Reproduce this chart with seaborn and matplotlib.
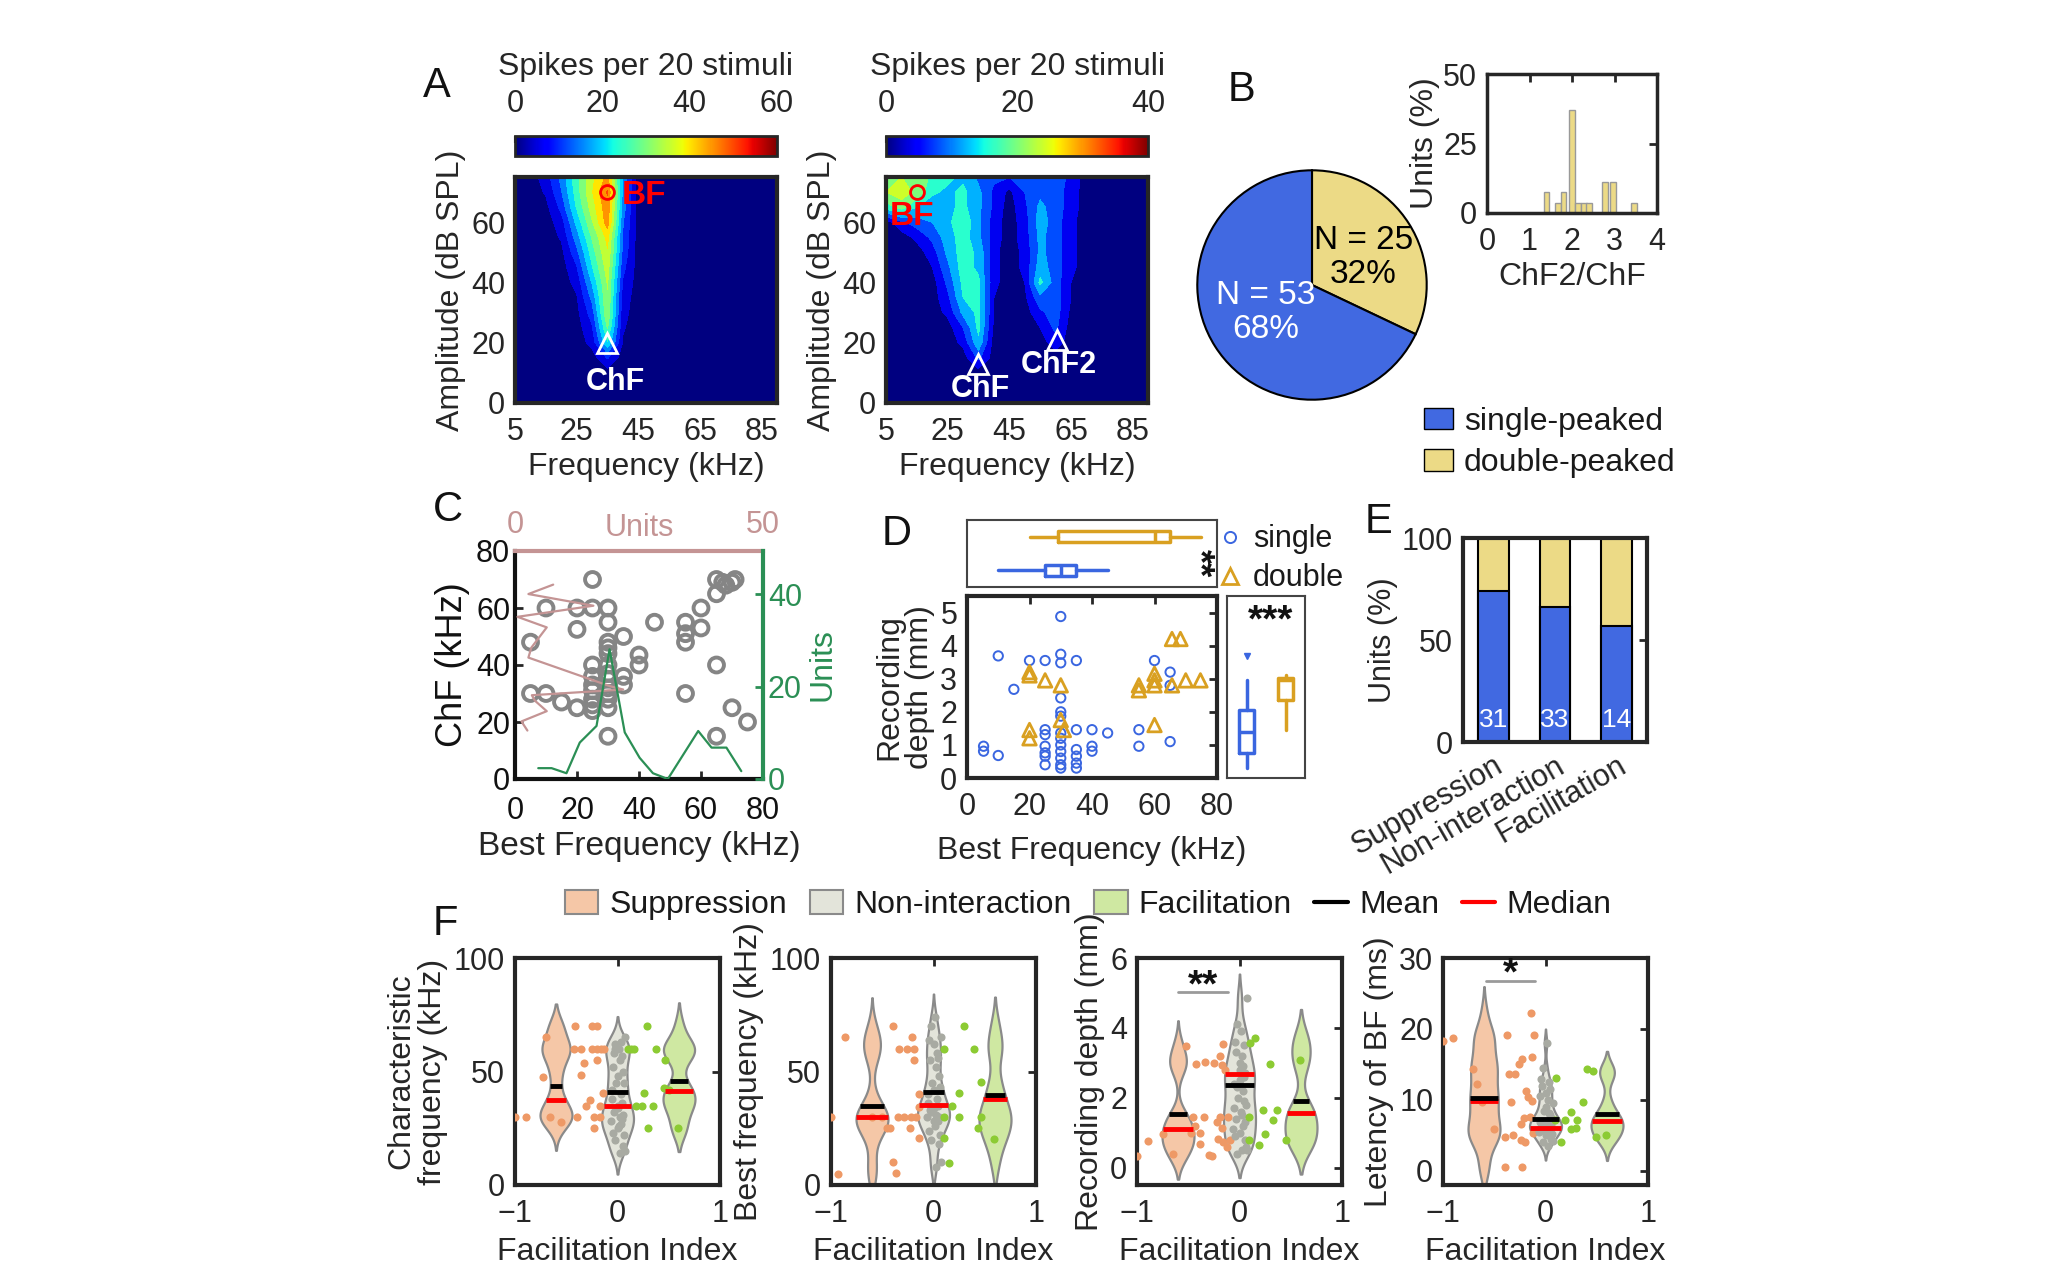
import numpy as np
import pandas as pd
import matplotlib
matplotlib.use("Agg")
import matplotlib.pyplot as plt
import seaborn as sns
from matplotlib.patches import Patch
from matplotlib.lines import Line2D
from matplotlib.colors import Normalize
from matplotlib.cm import ScalarMappable
from matplotlib.collections import PolyCollection

#################################################################
# A: tuning maps (spikes per 20 stimuli); rows = amplitude, cols = frequency
freq_khz = [5, 10, 15, 20, 25, 30, 35, 40, 45, 50, 55, 60, 65, 70, 75, 80, 85, 90]
amp_db = [0, 5, 10, 15, 20, 25, 30, 35, 40, 45, 50, 55, 60, 65, 70, 75]
spikes_single = [
    [0, 0, 0, 0, 0, 0, 0, 0, 0, 0, 0, 0, 0, 0, 0, 0, 0, 0],
    [0, 0, 0, 0, 0, 0, 0, 0, 0, 0, 0, 0, 0, 0, 0, 0, 0, 0],
    [0, 0, 0, 0, 0, 0, 0, 0, 0, 0, 0, 0, 0, 0, 0, 0, 0, 0],
    [0, 0, 0, 0, 0, 0, 8, 0, 0, 0, 0, 0, 0, 0, 0, 0, 0, 0],
    [0, 0, 0, 0, 0, 4, 22, 2, 0, 0, 0, 0, 0, 0, 0, 0, 0, 0],
    [0, 0, 0, 0, 0, 7, 28, 3, 0, 0, 0, 0, 0, 0, 0, 0, 0, 0],
    [0, 0, 0, 0, 1, 10, 32, 4, 0, 0, 0, 0, 0, 0, 0, 0, 0, 0],
    [0, 0, 0, 0, 2, 14, 32, 5, 0, 0, 0, 0, 0, 0, 0, 0, 0, 0],
    [0, 0, 0, 0, 4, 18, 33, 7, 0, 0, 0, 0, 0, 0, 0, 0, 0, 0],
    [0, 0, 0, 0, 7, 22, 35, 9, 0, 0, 0, 0, 0, 0, 0, 0, 0, 0],
    [0, 0, 0, 1, 11, 25, 37, 11, 0, 0, 0, 0, 0, 0, 0, 0, 0, 0],
    [0, 0, 0, 3, 15, 28, 39, 12, 0, 0, 0, 0, 0, 0, 0, 0, 0, 0],
    [0, 0, 0, 5, 19, 32, 45, 13, 0, 0, 0, 0, 0, 0, 0, 0, 0, 0],
    [0, 0, 1, 9, 23, 35, 46, 15, 0, 0, 0, 0, 0, 0, 0, 0, 0, 0],
    [0, 0, 3, 12, 25, 37, 48, 16, 0, 0, 0, 0, 0, 0, 0, 0, 0, 0],
    [0, 0, 5, 14, 26, 36, 44, 16, 0, 0, 0, 0, 0, 0, 0, 0, 0, 0],
]
spikes_double = [
    [0, 0, 0, 0, 0, 0, 0, 0, 0, 0, 0, 0, 0, 0, 0, 0, 0, 0],
    [0, 0, 0, 0, 0, 0, 0, 0, 0, 0, 0, 0, 0, 0, 0, 0, 0, 0],
    [0, 0, 0, 0, 0, 0, 0, 0, 0, 0, 0, 0, 0, 0, 0, 0, 0, 0],
    [0, 0, 0, 0, 0, 0, 7, 0, 0, 0, 0, 0, 0, 0, 0, 0, 0, 0],
    [0, 0, 0, 0, 0, 3, 13, 0, 0, 0, 0, 4, 0, 0, 0, 0, 0, 0],
    [0, 0, 0, 0, 0, 6, 15, 1, 0, 0, 2, 7, 0, 0, 0, 0, 0, 0],
    [0, 0, 0, 0, 3, 11, 15, 2, 0, 0, 5, 8, 1, 0, 0, 0, 0, 0],
    [0, 0, 0, 0, 5, 14, 15, 2, 0, 1, 9, 8, 2, 0, 0, 0, 0, 0],
    [0, 0, 0, 0, 7, 15, 15, 3, 0, 2, 15, 8, 2, 0, 0, 0, 0, 0],
    [0, 0, 0, 2, 9, 16, 13, 3, 0, 3, 12, 8, 3, 0, 0, 0, 0, 0],
    [0, 0, 0, 4, 11, 16, 13, 3, 0, 3, 11, 8, 3, 0, 0, 0, 0, 0],
    [0, 0, 3, 7, 12, 16, 11, 4, 0, 4, 11, 8, 3, 0, 0, 0, 0, 0],
    [0, 5, 8, 10, 13, 17, 11, 4, 0, 4, 12, 8, 3, 0, 0, 0, 0, 0],
    [16, 20, 14, 11, 13, 15, 11, 5, 0, 5, 11, 8, 4, 0, 0, 0, 0, 0],
    [22, 24, 21, 15, 13, 15, 11, 5, 1, 6, 9, 8, 4, 0, 0, 0, 0, 0],
    [19, 22, 21, 17, 15, 13, 9, 7, 6, 7, 7, 8, 5, 0, 0, 0, 0, 0],
]

# B: pie + ChF2/ChF histogram
peak_counts = [25, 53]          # double-peaked, single-peaked
ratio_bins = [1.4, 1.66, 1.8, 2.0, 2.15, 2.28, 2.41, 2.78, 2.97, 3.45]
ratio_pct = [7.4, 3.7, 7.4, 37.0, 3.7, 3.7, 3.7, 11.1, 11.1, 3.7]

# C: ChF vs BF with marginal unit counts
bf_c = [5, 5, 10, 10, 15, 20, 20, 20, 25, 25, 25, 25, 25, 25, 25, 25, 25,
        30, 30, 30, 30, 30, 30, 30, 30, 30, 30, 30, 30, 30, 35, 35, 35, 40, 40, 45,
        55, 55, 55, 55, 60, 60, 65, 65, 65, 65, 67, 68, 70, 71, 70, 75]
chf_c = [48, 30, 60, 30, 27, 60, 52.5, 25, 70, 60, 40, 36, 33, 31, 28, 26, 24,
         60, 55, 48, 46, 44, 40, 37, 35, 32, 30, 28, 25, 15, 50, 36, 33, 43.5, 40, 55,
         55, 51, 48, 30, 60, 53, 65, 70, 40, 15, 69, 68, 69, 70, 25, 20]
chf_hist_khz = [17, 20.2, 23.8, 27.5, 29.4, 31.4, 32.6, 42.6, 46.1, 53.2, 56.9, 60.8, 64.9, 68.2]
chf_hist_units = [2.5, 1.3, 6.4, 4.0, 3.4, 21.8, 19.1, 2.7, 3.3, 6.4, 0.5, 15.8, 2.7, 7.7]
bf_hist_khz = [7.5, 11.8, 16.6, 20.9, 26.3, 30.5, 35.4, 40.2, 44.5, 49.3, 59.1, 63.4, 68.2, 73.0]
bf_hist_units = [2.35, 2.35, 1.25, 7.9, 11.5, 28.1, 10.1, 4.6, 1.25, 0, 10.4, 6.8, 6.8, 1.7]

# D: recording depth vs BF
single_bf = [5.3, 5.3, 10, 10, 15, 20, 25, 25, 25, 25, 25, 25, 25, 30, 30, 30, 30, 30, 30,
             30, 30, 30, 30, 30, 30, 30, 35, 35, 35, 35, 35, 35, 40, 40, 40, 45, 55, 55,
             60, 65, 65, 65]
single_depth = [0.96, 0.81, 3.69, 0.68, 2.68, 3.55, 3.55, 1.46, 1.31, 0.96, 0.76, 0.66, 0.4,
                4.88, 3.74, 3.48, 2.42, 2.0, 1.87, 1.36, 1.2, 1.0, 0.8, 0.6, 0.4, 0.3, 3.55,
                1.46, 0.86, 0.66, 0.45, 0.3, 1.46, 0.96, 0.81, 1.36, 1.46, 0.96, 3.55, 3.2,
                2.8, 1.1]
double_bf = [20, 20, 20, 20, 25, 30, 30, 31, 55, 55, 60, 60, 60, 60, 65.6, 68.3, 65.6, 70, 74.7]
double_depth = [3.2, 3.1, 1.45, 1.2, 2.95, 2.8, 1.75, 1.45, 2.8, 2.65, 3.15, 2.95, 2.8, 1.6,
                4.2, 4.2, 2.8, 2.95, 2.95]
# box summaries: whislo, q1, median, q3, whishi
bf_box_single = [10, 25, 30, 35, 45]
bf_box_double = [20, 29, 60, 65, 75]
depth_box_single = [0.3, 0.75, 1.38, 2.05, 2.95]
depth_box_single_outlier = [3.7]
depth_box_double = [1.45, 2.35, 2.95, 3.02, 3.12]

# E: unit composition by interaction type
interaction = ["Suppression", "Non-interaction", "Facilitation"]
single_pct = [74, 66, 57]
double_pct = [26, 34, 43]
unit_n = [31, 33, 14]

# F: values vs facilitation index
non_fi = [-0.06, -0.05, -0.04, -0.04, -0.03, -0.03, -0.02, -0.02, -0.01, 0.0, 0.0, 0.0, 0.01,
          0.01, 0.02, 0.02, 0.02, 0.03, 0.03, 0.03, 0.04, 0.04, 0.05, 0.05, 0.05, 0.06, 0.06,
          0.07, 0.07, -0.05, 0.0, 0.04, -0.02]
sup_cf_fi = [-1.0, -0.89, -0.70, -0.73, -0.66, -0.55, -0.41, -0.42, -0.36, -0.33, -0.36, -0.40,
             -0.31, -0.27, -0.25, -0.20, -0.25, -0.20, -0.16, -0.13, -0.20, -0.23, -0.23, -0.17,
             -0.17, -0.14]
sup_cf = [30, 30, 65.4, 47.5, 30, 27.6, 70, 60, 60, 53.7, 48.5, 30, 35, 37.5, 70, 70, 60, 60,
          60, 60, 55, 25, 30, 30, 35, 40.4]
non_cf = [28, 38, 23, 52, 58, 32, 62, 20, 45, 25, 34, 48, 60, 26, 14, 30, 55, 27, 40, 63, 36,
          57, 17, 31, 50, 22, 45, 15, 65, 42, 35, 29, 60]
fac_cf_fi = [0.10, 0.16, 0.29, 0.38, 0.46, 0.45, 0.26, 0.18, 0.24, 0.35, 0.30, 0.59, 0.13, 0.50]
fac_cf = [60, 60, 70, 60, 55, 42.6, 40.4, 35, 35, 35, 25, 25, 60, 42]

sup_bf_fi = [-1.0, -0.93, -0.86, -0.40, -0.21, -0.34, -0.26, -0.19, -0.19, -0.50, -0.42, -0.35,
             -0.29, -0.22, -0.17, -0.23, -0.14, -0.14, -0.14, -0.40, -0.37, -0.60, -0.45]
sup_bf = [30, 5, 65, 70, 65, 60, 60, 60, 55, 30, 25, 30, 30, 30, 30, 25, 40, 34.5, 20.6, 10.3,
          5.1, 30, 25]
non_bf = [30, 36, 24, 64, 55, 33, 70, 20, 45, 28, 42, 62, 74, 26, 8, 31, 52, 29, 38, 58, 35,
          56, 18, 30, 48, 22, 43, 10, 65, 40, 34, 28, 32]
fac_bf_fi = [0.30, 0.395, 0.10, 0.46, 0.25, 0.18, 0.25, 0.43, 0.10, 0.10, 0.15, 0.59, 0.46]
fac_bf = [70, 60, 60, 45.3, 40.4, 35, 30, 25, 30, 20.6, 9.9, 20.1, 30]

sup_depth_fi = [-1.0, -0.89, -0.75, -0.65, -0.52, -0.42, -0.34, -0.25, -0.19, -0.17, -0.14,
                -0.16, -0.45, -0.35, -0.19, -0.11, -0.47, -0.39, -0.39, -0.30, -0.27, -0.21,
                -0.16, -0.12, -0.17, -0.09, -0.43, -0.22]
sup_depth = [0.33, 0.77, 0.96, 0.38, 3.48, 2.97, 3.03, 2.99, 3.18, 2.94, 2.79, 3.54, 1.44, 1.44,
             1.44, 1.44, 0.98, 0.98, 0.67, 0.35, 0.33, 0.83, 0.74, 0.59, 1.12, 0.78, 1.19, 1.31]
non_depth = [1.1, 2.4, 0.9, 3.6, 3.3, 1.4, 4.1, 0.4, 2.0, 1.0, 2.8, 3.0, 3.9, 1.6, 0.5, 1.5, 3.2,
             1.2, 2.2, 2.9, 2.6, 3.5, 0.8, 1.3, 2.7, 0.6, 1.8, 0.5, 4.85, 1.7, 2.5, 1.9, 2.3]
fac_depth_fi = [0.10, 0.15, 0.30, 0.23, 0.37, 0.33, 0.25, 0.19, 0.09, 0.45, 0.59, 0.09]
fac_depth = [3.56, 3.7, 2.97, 1.65, 1.65, 1.36, 0.96, 0.64, 0.78, 0.78, 3.08, 1.44]

sup_lat_fi = [-1.0, -0.90, -0.71, -0.67, -0.62, -0.50, -0.40, -0.32, -0.40, -0.23, -0.38, -0.14,
              -0.11, -0.36, -0.30, -0.26, -0.23, -0.13, -0.34, -0.19, -0.17, -0.13, -0.24, -0.21,
              -0.24, -0.20, -0.12, -0.15]
sup_lat = [18.3, 18.7, 14.3, 12.2, 9.7, 5.9, 4.8, 5.1, 0.5, 0.5, 19.2, 22.3, 19.2, 13.6, 13.6,
           15.1, 15.7, 16.0, 9.7, 11.2, 10.4, 9.9, 6.6, 7.5, 4.3, 4.0, 5.4, 7.6]
non_lat = [5.5, 10.5, 6.2, 13, 12, 6.5, 14.5, 4.0, 8.5, 5.0, 9.0, 11, 18, 6.0, 3.5, 6.8, 10, 5.8,
           8.2, 12.5, 7.2, 11.5, 4.5, 6.4, 7.5, 5.2, 7.0, 4.2, 9.5, 6.9, 5.6, 7.8, 6.1]
fac_lat_fi = [0.10, 0.15, 0.19, 0.25, 0.25, 0.30, 0.31, 0.37, 0.40, 0.46, 0.49, 0.59, 0.09]
fac_lat = [13.1, 4.0, 7.1, 8.3, 5.9, 6.1, 7.2, 9.7, 14.3, 14.1, 4.8, 5.1, 7.1]

cf_mean, cf_median = [43.8, 40.9, 45.7], [37.5, 34.9, 41.5]
bf_mean, bf_median = [34.9, 40.9, 39.7], [29.9, 35.1, 37.8]
depth_mean, depth_median = [1.52, 2.36, 1.91], [1.11, 2.67, 1.55]
lat_mean, lat_median = [10.2, 7.3, 8.0], [9.8, 6.1, 7.0]
#################################################################

sns.set_theme(style="white")
plt.rcParams['font.family'] = ['Liberation Sans', 'DejaVu Sans']
plt.rcParams['font.size'] = 22
plt.rcParams['axes.linewidth'] = 2.5
plt.rcParams['text.color'] = '#1a1a1a'

W, H = 2048, 1281
fig = plt.figure(figsize=(W / 100, H / 100), dpi=100)
INK = '#262626'
BLUE = '#4169E1'
KHAKI = '#ECDA86'
D_BLUE = '#3A66E0'
D_ORANGE = '#D9A021'
TICK = 22
LAB = 23


def add_ax(x0, y0, x1, y1):
    return fig.add_axes([x0 / W, 1 - y1 / H, (x1 - x0) / W, (y1 - y0) / H])


def boxed(ax, lw=2.5, size=TICK):
    for s in ax.spines.values():
        s.set_visible(True)
        s.set_color(INK)
        s.set_linewidth(lw)
    ax.tick_params(direction='in', top=True, right=True, length=6, width=2,
                   color=INK, labelcolor=INK, labelsize=size, pad=7)
    ax.tick_params(axis='x', pad=10)


def letter(x, y, s):
    fig.text(x / W, 1 - y / H, s, fontsize=30, ha='left', va='center', color='#111111')


# ---------------- A: tuning maps ----------------
panels_a = [(515, spikes_single, 60, [0, 20, 40, 60], np.arange(-2.5, 63, 5)),
            (886, spikes_double, 40, [0, 20, 40], np.arange(-2, 43, 4))]
heat_axes = []
for x0, z, vmax, cticks, levels in panels_a:
    ax = add_ax(x0, 177, x0 + 262, 403)
    ax.contourf(freq_khz, amp_db, np.array(z), levels=levels, cmap='jet',
                norm=Normalize(0, vmax))
    ax.set_xlim(5, 90)
    ax.set_ylim(0, 75)
    ax.set_xticks([5, 25, 45, 65, 85])
    ax.set_yticks([0, 20, 40, 60])
    boxed(ax, lw=3)
    ax.set_xlabel('Frequency (kHz)', fontsize=LAB, color=INK, labelpad=4)
    ax.set_ylabel('Amplitude (dB SPL)', fontsize=LAB, color=INK)
    cax = add_ax(x0, 136, x0 + 262, 156)
    cb = fig.colorbar(ScalarMappable(norm=Normalize(0, vmax), cmap='jet'), cax=cax,
                      orientation='horizontal', ticks=cticks)
    cax.xaxis.set_ticks_position('top')
    cax.xaxis.set_label_position('top')
    cax.tick_params(direction='in', length=5, width=1.5, labelsize=TICK, pad=12, color=INK)
    cb.set_label('Spikes per 20 stimuli', fontsize=LAB, labelpad=10, color=INK)
    cb.outline.set_linewidth(2)
    heat_axes.append(ax)

ax = heat_axes[0]
ax.plot(35, 70, 'o', mfc='none', mec='red', ms=10, mew=2)
ax.text(39.5, 69, 'BF', color='red', fontsize=24, fontweight='bold', va='center')
ax.plot(35, 20, '^', mfc='none', mec='white', ms=15, mew=2)
ax.text(37.5, 7, 'ChF', color='white', fontsize=22, fontweight='bold', ha='center', va='center')

ax = heat_axes[1]
ax.plot(15, 70, 'o', mfc='none', mec='red', ms=10, mew=2)
ax.text(13.5, 62, 'BF', color='red', fontsize=24, fontweight='bold', ha='center', va='center')
ax.plot(35, 13, '^', mfc='none', mec='white', ms=15, mew=2)
ax.text(35.5, 4.5, 'ChF', color='white', fontsize=22, fontweight='bold', ha='center', va='center')
ax.plot(60.5, 21, '^', mfc='none', mec='white', ms=15, mew=2)
ax.text(61, 12.5, 'ChF2', color='white', fontsize=22, fontweight='bold', ha='center', va='center')
letter(423, 86, 'A')

# ---------------- B: pie + histogram ----------------
ax = add_ax(1195, 168, 1429, 402)
ax.pie(peak_counts, colors=[KHAKI, BLUE], startangle=90, counterclock=False,
       wedgeprops=dict(edgecolor='black', linewidth=1.5))
ax.set_xlim(-1.02, 1.02)
ax.set_ylim(-1.02, 1.02)
ax.text(0.45, 0.24, 'N = %d\n%d%%' % (peak_counts[0], round(100 * peak_counts[0] / sum(peak_counts))),
        ha='center', va='center', fontsize=24, color='black', linespacing=1.15)
ax.text(-0.4, -0.24, 'N = %d\n%d%%' % (peak_counts[1], round(100 * peak_counts[1] / sum(peak_counts))),
        ha='center', va='center', fontsize=24, color='white', linespacing=1.15)
fig.legend([Patch(fc=BLUE, ec='black'), Patch(fc=KHAKI, ec='black')],
           ['single-peaked', 'double-peaked'], loc='upper left',
           bbox_to_anchor=(1408 / W, 1 - 391 / H), frameon=False, fontsize=23, borderpad=0,
           handlelength=0.9, handleheight=0.65, labelspacing=0.35, handletextpad=0.35)

ax = add_ax(1487, 74, 1657, 213)
ax.bar(ratio_bins, ratio_pct, width=0.14, color=KHAKI, edgecolor='#999999', linewidth=1)
ax.set_xlim(0, 4)
ax.set_ylim(0, 50)
ax.set_xticks([0, 1, 2, 3, 4])
ax.set_yticks([0, 25, 50])
boxed(ax)
ax.set_xlabel('ChF2/ChF', fontsize=LAB, color=INK, labelpad=4)
ax.set_ylabel('Units (%)', fontsize=LAB, color=INK, labelpad=2)
letter(1228, 90, 'B')

# ---------------- C: ChF vs BF ----------------
PINK = '#C49494'
GREEN = '#2B8F55'
ax_c = add_ax(515, 551, 763, 779)
sns.scatterplot(x=bf_c, y=chf_c, ax=ax_c, marker='o', s=115, facecolors='none',
                edgecolors='#858585', linewidths=2.8, zorder=3)
ax_c.set_xlim(0, 80)
ax_c.set_ylim(0, 80)
ax_c.set_xticks([0, 20, 40, 60, 80])
ax_c.set_yticks([0, 20, 40, 60, 80])
for s in ['top', 'right']:
    ax_c.spines[s].set_visible(False)
for s in ['left', 'bottom']:
    ax_c.spines[s].set_color('#111111')
    ax_c.spines[s].set_linewidth(3)
ax_c.tick_params(direction='in', length=6, width=2, labelsize=TICK, color=INK, labelcolor='#111111')
ax_c.tick_params(axis='x', pad=12)
ax_c.set_xlabel('Best Frequency (kHz)', fontsize=24, color=INK)
ax_c.set_ylabel('ChF (kHz)', fontsize=26, color='#111111')

ax_ct = ax_c.twiny()
ax_ct.plot(chf_hist_units, chf_hist_khz, color=PINK, lw=1.6)
ax_ct.set_xlim(0, 50)
ax_ct.set_xticks([0, 50])
for s in ['left', 'right', 'bottom']:
    ax_ct.spines[s].set_visible(False)
ax_ct.spines['top'].set_color(PINK)
ax_ct.spines['top'].set_linewidth(3)
ax_ct.tick_params(axis='x', length=0, labelsize=TICK, labelcolor=PINK, pad=8)
ax_ct.text(25, 1.035, 'Units', transform=ax_ct.get_xaxis_transform(), ha='center',
           va='bottom', fontsize=TICK, color=PINK)

ax_cr = ax_c.twinx()
ax_cr.plot(bf_hist_khz, bf_hist_units, color=GREEN, lw=1.6)
ax_cr.set_ylim(0, 49.4)
ax_cr.set_yticks([0, 20, 40])
for s in ['left', 'top', 'bottom']:
    ax_cr.spines[s].set_visible(False)
ax_cr.spines['right'].set_color(GREEN)
ax_cr.spines['right'].set_linewidth(3)
ax_cr.tick_params(axis='y', direction='in', length=6, width=2, color=GREEN,
                  labelcolor=GREEN, labelsize=TICK)
ax_cr.set_ylabel('Units', color=GREEN, fontsize=LAB, labelpad=4)
letter(433, 510, 'C')

# ---------------- D: depth vs BF ----------------
ax_d = add_ax(967, 596, 1217, 778)
sns.scatterplot(x=single_bf, y=single_depth, ax=ax_d, marker='o', s=45, facecolors='none',
                edgecolors=D_BLUE, linewidths=1.4, zorder=3)
sns.scatterplot(x=double_bf, y=double_depth, ax=ax_d, marker='^', s=95, facecolors='none',
                edgecolors=D_ORANGE, linewidths=2, zorder=4)
ax_d.set_xlim(0, 80)
ax_d.set_ylim(0, 5.5)
ax_d.set_xticks([0, 20, 40, 60, 80])
ax_d.set_yticks([0, 1, 2, 3, 4, 5])
boxed(ax_d, lw=3)
ax_d.set_xlabel('Best Frequency (kHz)', fontsize=LAB, color=INK, labelpad=10)
ax_d.set_ylabel('Recording\ndepth (mm)', fontsize=LAB, color=INK, linespacing=1.0)


def box_stats(v, fliers=()):
    return dict(whislo=v[0], q1=v[1], med=v[2], q3=v[3], whishi=v[4], fliers=list(fliers))


ax_dt = add_ax(967, 520, 1217, 587)
for st, pos, col in [(box_stats(bf_box_single), 1, D_BLUE), (box_stats(bf_box_double), 2, D_ORANGE)]:
    ax_dt.bxp([st], positions=[pos], widths=0.32, orientation='horizontal', showcaps=False,
              boxprops=dict(color=col, lw=2.5), whiskerprops=dict(color=col, lw=2.5),
              medianprops=dict(color=col, lw=2.5))
ax_dt.set_xlim(0, 80)
ax_dt.set_ylim(0.5, 2.5)
ax_dt.set_xticks([])
ax_dt.set_yticks([])
for s in ax_dt.spines.values():
    s.set_color('#444444')
    s.set_linewidth(1.5)
ax_dt.text(74, 1.2, '**', rotation=-90, ha='center', va='center', fontsize=26,
           fontweight='bold', color='#111111')

ax_dr = add_ax(1227, 596, 1305, 778)
ax_dr.bxp([box_stats(depth_box_single, depth_box_single_outlier)], positions=[1], widths=0.36,
          showcaps=False, boxprops=dict(color=D_BLUE, lw=2.5), whiskerprops=dict(color=D_BLUE, lw=2.5),
          medianprops=dict(color=D_BLUE, lw=2.5),
          flierprops=dict(marker='v', markersize=5, mfc=D_BLUE, mec=D_BLUE))
ax_dr.bxp([box_stats(depth_box_double)], positions=[2], widths=0.36, showcaps=False,
          boxprops=dict(color=D_ORANGE, lw=2.5), whiskerprops=dict(color=D_ORANGE, lw=2.5),
          medianprops=dict(color=D_ORANGE, lw=2.5))
ax_dr.set_xlim(0.5, 2.5)
ax_dr.set_ylim(0, 5.5)
ax_dr.set_xticks([])
ax_dr.set_yticks([])
for s in ax_dr.spines.values():
    s.set_color('#444444')
    s.set_linewidth(1.5)
ax_dr.text(1.63, 4.72, '***', ha='center', va='center', fontsize=28, fontweight='bold',
           color='#111111')

fig.legend([Line2D([], [], ls='none', marker='o', mfc='none', mec=D_BLUE, ms=8, mew=1.4),
            Line2D([], [], ls='none', marker='^', mfc='none', mec=D_ORANGE, ms=11, mew=2)],
           ['single', 'double'], loc='upper left', bbox_to_anchor=(1204 / W, 1 - 509 / H),
           frameon=False, fontsize=22, borderpad=0, handlelength=0.7, handletextpad=0.4,
           labelspacing=0.3)
letter(882, 534, 'D')

# ---------------- E: stacked composition ----------------
ax_e = add_ax(1463, 538, 1647, 742)
total_pct = [a + b for a, b in zip(single_pct, double_pct)]
sns.barplot(x=interaction, y=total_pct, color=KHAKI, saturation=1, width=0.5,
            edgecolor='black', linewidth=1.5, ax=ax_e)
sns.barplot(x=interaction, y=single_pct, color=BLUE, saturation=1, width=0.5,
            edgecolor='black', linewidth=1.5, ax=ax_e)
for i, n in enumerate(unit_n):
    ax_e.text(i, 11, str(n), ha='center', va='center', color='white', fontsize=19)
ax_e.set_xlim(-0.5, 2.5)
ax_e.set_ylim(0, 100)
ax_e.set_yticks([0, 50, 100])
boxed(ax_e, lw=3)
ax_e.set_xticks(range(3))
ax_e.set_xticklabels(interaction, rotation=30, ha='right', rotation_mode='anchor', fontsize=TICK)
ax_e.tick_params(axis='x', pad=6)
ax_e.set_ylabel('Units (%)', fontsize=22, color=INK, labelpad=3)
letter(1365, 522, 'E')

# ---------------- F: violins ----------------
groups = ['Suppression', 'Non-interaction', 'Facilitation']
fill_pal = {'Suppression': '#F5C7A7', 'Non-interaction': '#E3E4DA', 'Facilitation': '#CFE8A2'}
dot_pal = {'Suppression': '#EE9966', 'Non-interaction': '#A8AAA2', 'Facilitation': '#8CCB33'}
violin_pos = {'Suppression': -0.6, 'Non-interaction': 0.0, 'Facilitation': 0.6}


def span_at(verts, y):
    xs = []
    for (x0, y0), (x1, y1) in zip(verts[:-1], verts[1:]):
        if y0 != y1 and (y0 - y) * (y1 - y) <= 0:
            xs.append(x0 + (y - y0) * (x1 - x0) / (y1 - y0))
    return (min(xs), max(xs)) if xs else None


def violin_panel(ax, data, means, medians, ylim, yticks, ylabel):
    rows = []
    for g in groups:
        for v in data[g][1]:
            rows.append((violin_pos[g], v, g))
    df = pd.DataFrame(rows, columns=['pos', 'value', 'group'])
    sns.violinplot(data=df, x='pos', y='value', hue='group', hue_order=groups, palette=fill_pal,
                   native_scale=True, dodge=False, inner=None, density_norm='width', width=0.52,
                   linewidth=1.6, linecolor='#8a8a8a', saturation=1, bw_adjust=0.6,
                   legend=False, ax=ax)
    for g in groups:
        sns.scatterplot(x=data[g][0], y=data[g][1], color=dot_pal[g], s=34, linewidth=0,
                        ax=ax, zorder=3)
    polys = [c for c in ax.collections if isinstance(c, PolyCollection)]
    for i, g in enumerate(groups):
        p = violin_pos[g]
        verts = None
        for c in polys:
            for path in c.get_paths():
                v = path.vertices
                if abs((v[:, 0].min() + v[:, 0].max()) / 2 - p) < 0.1:
                    verts = v
        for val, col in [(medians[i], 'red'), (means[i], 'black')]:
            sp = span_at(verts, val) if verts is not None else None
            if sp is None:
                sp = (p - 0.08, p + 0.08)
            ax.plot(sp, [val, val], color=col, lw=3.5, solid_capstyle='butt', zorder=5)
    ax.set_xlim(-1, 1)
    ax.set_ylim(*ylim)
    ax.set_xticks([-1, 0, 1])
    ax.set_yticks(yticks)
    boxed(ax, lw=3)
    ax.set_xlabel('Facilitation Index', fontsize=LAB, color=INK, labelpad=6)
    ax.set_ylabel(ylabel, fontsize=LAB, color=INK, linespacing=1.1)


f_lefts = [515, 831, 1137, 1443]
panels_f = [
    ({'Suppression': (sup_cf_fi, sup_cf), 'Non-interaction': (non_fi, non_cf),
      'Facilitation': (fac_cf_fi, fac_cf)}, cf_mean, cf_median, (0, 100), [0, 50, 100],
     'Characteristic\nfrequency (kHz)'),
    ({'Suppression': (sup_bf_fi, sup_bf), 'Non-interaction': (non_fi, non_bf),
      'Facilitation': (fac_bf_fi, fac_bf)}, bf_mean, bf_median, (0, 100), [0, 50, 100],
     'Best frequency (kHz)'),
    ({'Suppression': (sup_depth_fi, sup_depth), 'Non-interaction': (non_fi, non_depth),
      'Facilitation': (fac_depth_fi, fac_depth)}, depth_mean, depth_median, (-0.5, 6),
     [0, 2, 4, 6], 'Recording depth (mm)'),
    ({'Suppression': (sup_lat_fi, sup_lat), 'Non-interaction': (non_fi, non_lat),
      'Facilitation': (fac_lat_fi, fac_lat)}, lat_mean, lat_median, (-2, 30),
     [0, 10, 20, 30], 'Letency of BF (ms)'),
]
f_axes = []
for x0, (data, mn, md, yl, yt, lab) in zip(f_lefts, panels_f):
    ax = add_ax(x0, 958, x0 + 205, 1185)
    violin_panel(ax, data, mn, md, yl, yt, lab)
    f_axes.append(ax)

ax = f_axes[2]
ax.plot([-0.6, -0.11], [5.02, 5.02], color='#9a9a9a', lw=2)
ax.text(-0.36, 4.68, '**', ha='center', va='bottom', fontsize=28, fontweight='bold', color='#111111')
ax = f_axes[3]
ax.plot([-0.58, -0.1], [26.7, 26.7], color='#9a9a9a', lw=2)
ax.text(-0.34, 25.2, '*', ha='center', va='bottom', fontsize=28, fontweight='bold', color='#111111')

fig.legend([Patch(fc=fill_pal[g], ec='#8a8a8a', lw=1.5) for g in groups] +
           [Line2D([], [], color='black', lw=3), Line2D([], [], color='red', lw=3)],
           groups + ['Mean', 'Median'], loc='center', bbox_to_anchor=(1088 / W, 1 - 905 / H),
           ncol=5, frameon=False, fontsize=23, handlelength=1.05, handleheight=0.8,
           handletextpad=0.35, columnspacing=0.7)
letter(433, 924, 'F')

fig.savefig('out.png', dpi=100, facecolor='white')
